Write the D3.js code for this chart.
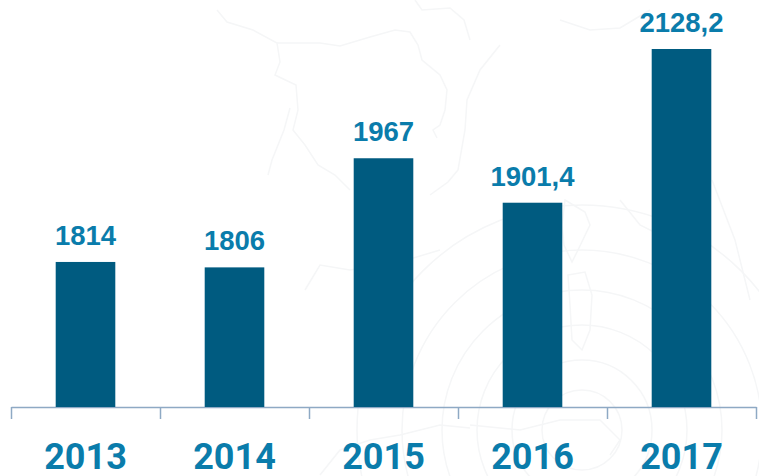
<!DOCTYPE html>
<html>
<head>
  <meta charset="utf-8">
<style>
  html, body { margin: 0; padding: 0; background: #fff; }
  svg { display: block; }
</style>
<script src="https://d3js.org/d3.v7.min.js"></script>
</head>
<body>
  <svg width="759" height="476"></svg>
<script>
  var years = ["2013", "2014", "2015", "2016", "2017"];
  var values = [1814, 1806, 1967, 1901.4, 2128.2];
  var valueLabels = ["1814", "1806", "1967", "1901,4", "2128,2"];

  var svg = d3.select("svg");
  var baseline = 407;

  // faint map in the background, only traced by eye
  var mapLines = [
    "M217,10 L227,22 L253,30 L277,43 L280,62 L275,75 L296,85 L298,110 L293,130 L305,145 L318,165 L335,175 L350,190",
    "M277,43 L320,43 L340,46 L370,37 L395,30 L410,32 L418,45 L422,60 L440,75 L447,90 L445,110 L440,125 L433,130 L437,138",
    "M290,108 L284,130 L272,160 L268,175",
    "M415,0 L422,10 L450,8 L464,20 L470,40",
    "M500,45 L480,70 L467,100 L465,130 L458,170 L448,182 L430,195",
    "M560,20 L590,30 L620,28 L650,10",
    "M565,200 L585,212 L590,225 L578,250 L572,262 L564,245 L562,225 Z",
    "M568,275 L585,272 L592,295 L590,330 L582,350 L572,340 L570,305 Z",
    "M305,290 L320,265 L350,270 L400,262 L440,250",
    "M320,475 L340,450 L370,440 L400,435 L440,425 L470,428",
    "M470,425 L520,430 L560,420 L600,420 L620,440 L610,455",
    "M620,200 L640,225 L660,235 M712,180 L735,240 L750,300"
  ];
  var mapRings = [40, 70, 105, 140, 180, 225];

  var map = svg.append("g")
      .attr("fill", "none")
      .attr("stroke", "#f5f6f7")
      .attr("stroke-width", 1.5);
  map.selectAll("path")
    .data(mapLines)
    .enter().append("path")
      .attr("d", function(d) { return d; });
  map.selectAll("circle")
    .data(mapRings)
    .enter().append("circle")
      .attr("cx", 582)
      .attr("cy", 430)
      .attr("r", function(d) { return d; });

  var x = d3.scaleBand()
      .domain(years)
      .range([11, 756])
      .paddingInner(0.6)
      .paddingOuter(0.3);

  var y = d3.scaleLinear()
      .domain([1600, 2128.2])
      .range([baseline, 49]);

  // ticks sit between the categories, so this axis runs on a plain index
  var edges = d3.scaleLinear()
      .domain([0, years.length])
      .range([11, 756]);

  var edgeAxis = svg.append("g")
      .attr("transform", "translate(0," + baseline + ")")
      .call(d3.axisBottom(edges).ticks(years.length).tickSize(12).tickSizeOuter(0).tickFormat(""));
  edgeAxis.selectAll("line, path")
      .attr("stroke", "#8ea9c4")
      .attr("stroke-width", 1.5);

  svg.selectAll(".bar")
      .data(values)
      .enter().append("rect")
      .attr("class", "bar")
      .attr("x", function(d, i) { return x(years[i]); })
      .attr("y", function(d) { return y(d); })
      .attr("width", x.bandwidth())
      .attr("height", function(d) { return baseline - y(d); })
      .attr("fill", "#005b80");

  svg.selectAll(".value")
      .data(values)
      .enter().append("text")
      .attr("class", "value")
      .attr("x", function(d, i) { return x(years[i]) + x.bandwidth() / 2; })
      .attr("y", function(d) { return y(d) - 17; })
      .attr("text-anchor", "middle")
      .attr("font-family", "'Liberation Sans', Arial, sans-serif")
      .attr("font-weight", "bold")
      .attr("font-size", 27.5)
      .attr("fill", "#0a7cab")
      .text(function(d, i) { return valueLabels[i]; });

  var yearAxis = svg.append("g")
      .attr("transform", "translate(0,469)")
      .call(d3.axisBottom(x).tickSize(0).tickPadding(0));
  yearAxis.select(".domain").remove();
  yearAxis.selectAll("text")
      .attr("y", 0)
      .attr("dy", 0)
      .attr("font-family", "Roboto, sans-serif")
      .attr("font-weight", "bold")
      .attr("font-size", 36)
      .attr("fill", "#0a7cab");
</script>
</body>
</html>
